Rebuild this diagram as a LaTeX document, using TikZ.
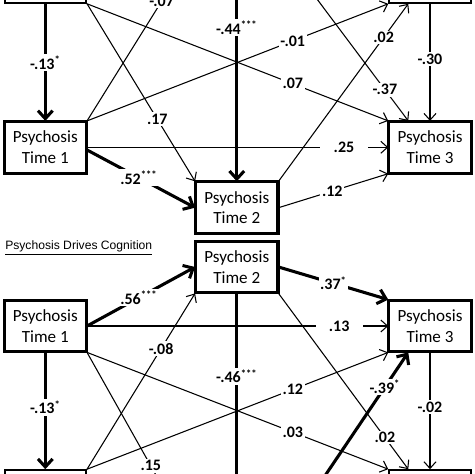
\documentclass[tikz,border=0pt]{standalone}
\usepackage{fontspec}
\setmainfont{Carlito}
\newfontfamily\titlefont{Liberation Sans}
\usetikzlibrary{arrows.meta}
\begin{document}
\begin{tikzpicture}[x=0.75pt,y=-0.75pt,
  box/.style={draw, line width=1.6pt, fill=white, minimum width=61pt, minimum height=38pt,
    align=center, inner sep=0pt, font=\fontsize{12.8}{15.5}\selectfont},
  lbl/.style={fill=white, inner sep=1.2pt, font=\bfseries\fontsize{12}{13}\selectfont},
  wlbl/.style={lbl, inner xsep=10pt},
  arrthin/.style={line width=0.8pt, -{Straight Barb[length=5pt,width=9pt]}},
  arrthick/.style={line width=2.3pt, -{Straight Barb[length=6pt,width=11pt]}}]
\useasboundingbox (0,0) rectangle (474,474);
\clip (0,0) rectangle (474,474);
% boxes (positions)
\node[box] (CT1U) at (45.3,-22.6) {};
\node[box] (CT2U) at (236.8,-78.7) {};
\node[box] (CT3U) at (430,-22.6) {};
\node[box] (PT1U) at (45.3,147.3) {Psychosis\\Time 1};
\node[box] (PT2U) at (236.8,207.7) {Psychosis\\Time 2};
\node[box] (PT3U) at (430,147.3) {Psychosis\\Time 3};
\node[box] (PT1L) at (45.3,326) {Psychosis\\Time 1};
\node[box] (PT2L) at (236.8,267) {Psychosis\\Time 2};
\node[box] (PT3L) at (430,326) {Psychosis\\Time 3};
\node[box] (CT1L) at (45.3,495.6) {};
\node[box] (CT2L) at (236.8,571) {};
\node[box] (CT3L) at (430,495.6) {};
% upper section connectors
\draw[arrthick] (CT1U.south) -- node[lbl,pos=0.5]{-.13\textsuperscript{*}} (PT1U.north);
\draw[arrthin] (CT1U.south east) -- node[lbl,pos=0.683]{.07} (PT3U.north west);
\draw[arrthin] (CT1U.south east) -- node[lbl,pos=0.65]{.17} (PT2U.north west);
\draw[arrthin] (PT1U.north east) -- node[lbl,pos=0.69]{-.07} (CT2U.south west);
\draw[arrthin] (PT1U.north east) -- node[lbl,pos=0.683]{-.01} (CT3U.south west);
\draw[arrthin] (PT1U.east) -- node[wlbl,pos=0.853]{.25} (PT3U.west);
\draw[arrthick] ([yshift=-2pt]PT1U.east) -- node[lbl,pos=0.48]{.52\textsuperscript{***}} (PT2U.west);
\draw[arrthick] (CT2U.south) -- node[lbl,pos=0.343]{-.44\textsuperscript{***}} (PT2U.north);
\draw[arrthin] (CT2U.south east) -- node[lbl,pos=0.82]{-.37} ([xshift=15pt]PT3U.north west);
\draw[arrthin] (PT2U.north east) -- node[lbl,pos=0.81]{.02} ([xshift=15pt]CT3U.south west);
\draw[arrthin] (CT3U.south) -- node[lbl,pos=0.47]{-.30} (PT3U.north);
\draw[arrthin] (PT2U.east) -- node[lbl,pos=0.49]{.12} (PT3U.south west);
% lower section connectors
\draw[arrthick] (PT1L.east) -- node[lbl,pos=0.48]{.56\textsuperscript{***}} (PT2L.west);
\draw[arrthick] (PT2L.east) -- node[lbl,pos=0.5]{.37\textsuperscript{*}} (PT3L.north west);
\draw[arrthin] (PT1L.east) -- node[wlbl,pos=0.837]{.13} (PT3L.west);
\draw[arrthin] (PT1L.south east) -- node[lbl,pos=0.683]{.03} (CT3L.north west);
\draw[arrthin] (PT1L.south east) -- node[lbl,pos=0.59]{.15} (CT2L.north west);
\draw[arrthin] (CT1L.north east) -- node[lbl,pos=0.686]{-.08} (PT2L.south west);
\draw[arrthin] (CT1L.north east) -- node[lbl,pos=0.683]{.12} (PT3L.south west);
\draw[arrthick] (PT2L.south) -- node[lbl,pos=0.33]{-.46\textsuperscript{***}} (CT2L.north);
\draw[arrthick] (CT2L.north east) -- node[lbl,pos=0.82]{-.39\textsuperscript{*}} ([xshift=15pt]PT3L.south west);
\draw[arrthin] (PT2L.south east) -- node[lbl,pos=0.82]{.02} ([xshift=15pt]CT3L.north west);
\draw[arrthin] (PT3L.south) -- node[lbl,pos=0.47]{-.02} (CT3L.north);
\draw[arrthick] (PT1L.south) -- node[lbl,pos=0.47]{-.13\textsuperscript{*}} (CT1L.north);
% title
\node[anchor=west, inner sep=0pt, font=\titlefont\fontsize{9.1}{11}\selectfont] (title) at (5,248) {\underline{Psychosis Drives Cognition}};
% redraw box outlines on top
\foreach \n in {PT1U,PT2U,PT3U,PT1L,PT2L,PT3L}{
  \draw[line width=1.6pt] (\n.north west) rectangle (\n.south east);
}
\end{tikzpicture}
\end{document}
